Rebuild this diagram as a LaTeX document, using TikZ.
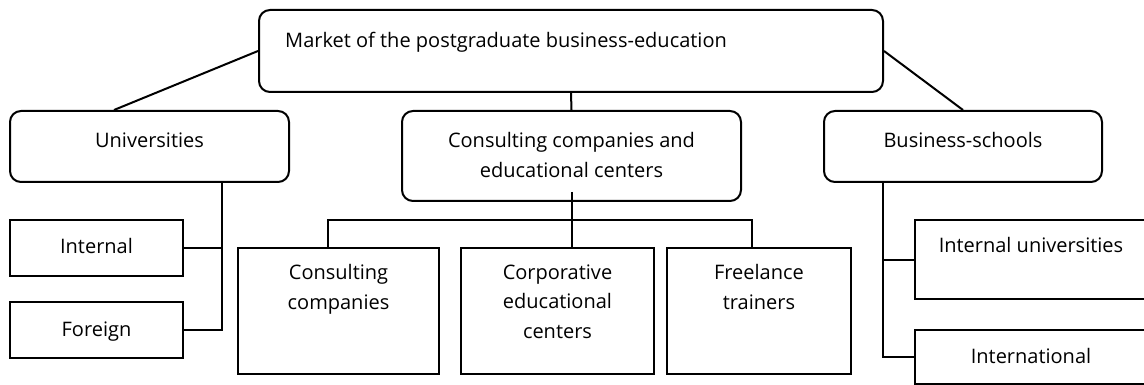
\documentclass[tikz,border=0pt]{standalone}
\usepackage{fontspec}
\setmainfont{Open Sans}
\begin{document}
\begin{tikzpicture}[x=1pt,y=-1pt,
  lw/.style={line width=2pt},
  rbox/.style={draw, lw, rounded corners=11pt, inner sep=0pt},
  sbox/.style={draw, lw, inner sep=0pt},
  lbl/.style={font=\fontsize{20}{29.5}\selectfont, inner sep=0pt, align=center, anchor=base},
  conn/.style={lw}]
\useasboundingbox (0,0) rectangle (1144,385);
\clip (0,0) rectangle (1144,385);
\fill[white] (0,0) rectangle (1144,385);
% boxes
\node[rbox, minimum width=624pt, minimum height=82pt] (top) at (571,51) {};
\node[rbox, minimum width=279pt, minimum height=71pt] (uni) at (149.5,146.5) {};
\node[rbox, minimum width=339pt, minimum height=90pt] (cc) at (571.5,156) {};
\node[rbox, minimum width=278pt, minimum height=71pt] (bs) at (963,146.5) {};
\node[sbox, minimum width=173pt, minimum height=56pt] (int) at (96.5,248) {};
\node[sbox, minimum width=173pt, minimum height=56pt] (for) at (96.5,330) {};
\node[sbox, minimum width=201pt, minimum height=126pt] (cons) at (338.5,311) {};
\node[sbox, minimum width=193pt, minimum height=126pt] (corp) at (557.5,311) {};
\node[sbox, minimum width=184pt, minimum height=126pt] (free) at (759,311) {};
\node[sbox, minimum width=236pt, minimum height=79pt] (iu) at (1033,259.5) {};
\node[sbox, minimum width=236pt, minimum height=54pt] (intl) at (1033,357) {};
% texts (anchor=base is the baseline of the last line)
\node[lbl, anchor=base west] (ttop) at (285,48) {Market of the postgraduate business-education};
\node[lbl] (tuni) at (149.5,148) {Universities};
\node[lbl] (tcc) at (571.5,177.5) {Consulting companies and\\educational centers};
\node[lbl] (tbs) at (963,148) {Business-schools};
\node[lbl] (tint) at (96.5,253) {Internal};
\node[lbl] (tfor) at (96.5,336) {Foreign};
\node[lbl] (tcons) at (338.5,309) {Consulting\\companies};
\node[lbl] (tcorp) at (557.5,338) {Corporative\\educational\\centers};
\node[lbl] (tfree) at (759,309) {Freelance\\trainers};
\node[lbl] (tiu) at (1031,252) {Internal universities};
\node[lbl] (tintl) at (1031,363) {International};
% coordinates
\coordinate (ubus) at (222,182);
\coordinate (ccin) at (572,192);
\coordinate (cbus) at (572,220);
\coordinate (bbus) at (883,182);
% connectors
\draw[conn] (top.west) -- ([xshift=-35.5pt]uni.north);
\draw[conn] (top.east) -- (bs.north);
\draw[conn] (top.south) -- (cc.north);
\draw[conn] (ubus) |- (for.east);
\draw[conn] (int.east) -- (int.east -| ubus);
\draw[conn] (ccin) -- (ccin |- corp.north);
\draw[conn] (cons.north -| 328,0) |- (cbus) -| (free.north -| 752,0);
\draw[conn] (bbus) |- (intl.west);
\draw[conn] (iu.west) -- (iu.west -| bbus);
\end{tikzpicture}
\end{document}
